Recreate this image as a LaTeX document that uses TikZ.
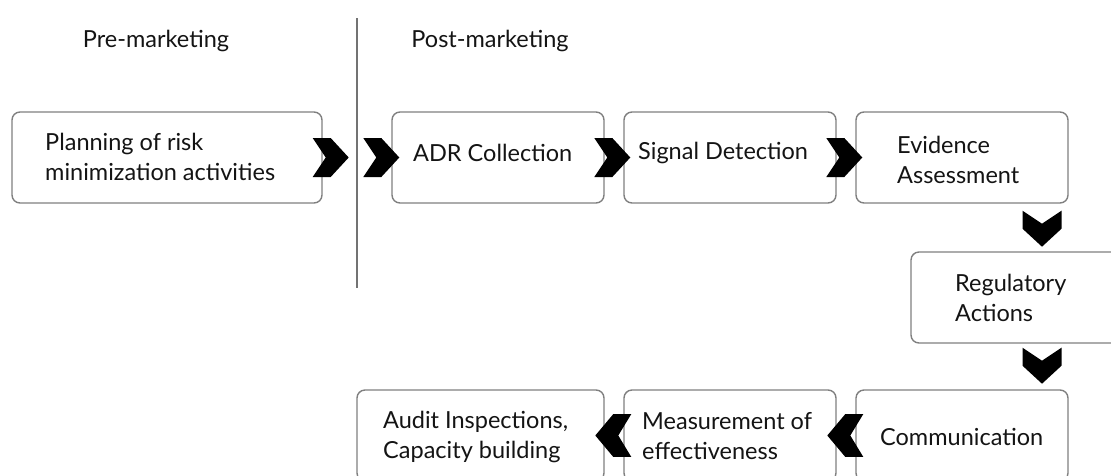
\documentclass[tikz,border=0pt]{standalone}
\usepackage{fontspec}
\setmainfont{Lato}
\begin{document}
\begin{tikzpicture}[x=1pt,y=-1pt,
  box/.style={draw=black!50,line width=1.4pt,rounded corners=8pt,fill=white,inner sep=0pt},
  txt/.style={anchor=west,align=left,inner sep=0pt,text=black!92,font=\fontsize{23.5}{30}\selectfont},
  head/.style={inner sep=0pt,text=black!92,font=\fontsize{23.5}{28}\selectfont},
  chev/.pic={\fill[black] (-18,-19.5) -- (0,-19.5) -- (18,0) -- (0,19.5) -- (-18,19.5) -- (-5,0) -- cycle;}
]
\useasboundingbox (0,0) rectangle (1111,475);
\clip (0,0) rectangle (1111,475);

% phase headings and divider
\node[head] (pre) at (156,41) {Pre-marketing};
\node[head] (post) at (490,41) {Post-marketing};
\coordinate (dtop) at (357,18);
\coordinate (dbot) at (357,288);
\draw[black!55,line width=1.2pt] (dtop) -- (dbot);

% boxes
\node[box,minimum width=310pt,minimum height=91pt] (b1) at (167,157.5) {};
\node[box,minimum width=212pt,minimum height=91pt] (b2) at (498,157.5) {};
\node[box,minimum width=212pt,minimum height=91pt] (b3) at (730,157.5) {};
\node[box,minimum width=212pt,minimum height=91pt] (b4) at (962,157.5) {};
\node[box,minimum width=212pt,minimum height=91pt] (b5) at (1017,297.5) {};
\node[box,minimum width=212pt,minimum height=91pt] (b6) at (962,435.5) {};
\node[box,minimum width=212pt,minimum height=91pt] (b7) at (730,435.5) {};
\node[box,minimum width=247pt,minimum height=91pt] (b8) at (480.5,435.5) {};

% labels
\node[txt] (t1) at (45,157) {Planning of risk\\minimization activities};
\node[txt] (t2) at (413,153) {ADR Collection};
\node[txt] (t3) at (638,153) {Signal Detection};
\node[txt] (t4) at (897,160) {Evidence\\Assessment};
\node[txt] (t5) at (955,298) {Regulatory\\Actions};
\node[txt] (t6) at (880,437) {Communication};
\node[txt] (t7) at (642,436) {Measurement of\\effectiveness};
\node[txt] (t8) at (383,437) {Audit Inspections,\\Capacity building};

% chevron connectors
\pic at ([xshift=8pt]b1.east) {chev};
\pic at ([xshift=-10pt]b2.west) {chev};
\pic at ([xshift=-11pt]b3.west) {chev};
\pic at ([xshift=-11pt]b4.west) {chev};
\pic[rotate=-90] at ([xshift=80pt,yshift=-25pt]b4.south) {chev};
\pic[rotate=-90] at ([xshift=25pt,yshift=-22pt]b5.south) {chev};
\pic[rotate=180,yscale=1.1] at ([xshift=-10pt]b6.west) {chev};
\pic[rotate=180,yscale=1.1] at ([xshift=-10pt]b7.west) {chev};
\end{tikzpicture}
\end{document}
